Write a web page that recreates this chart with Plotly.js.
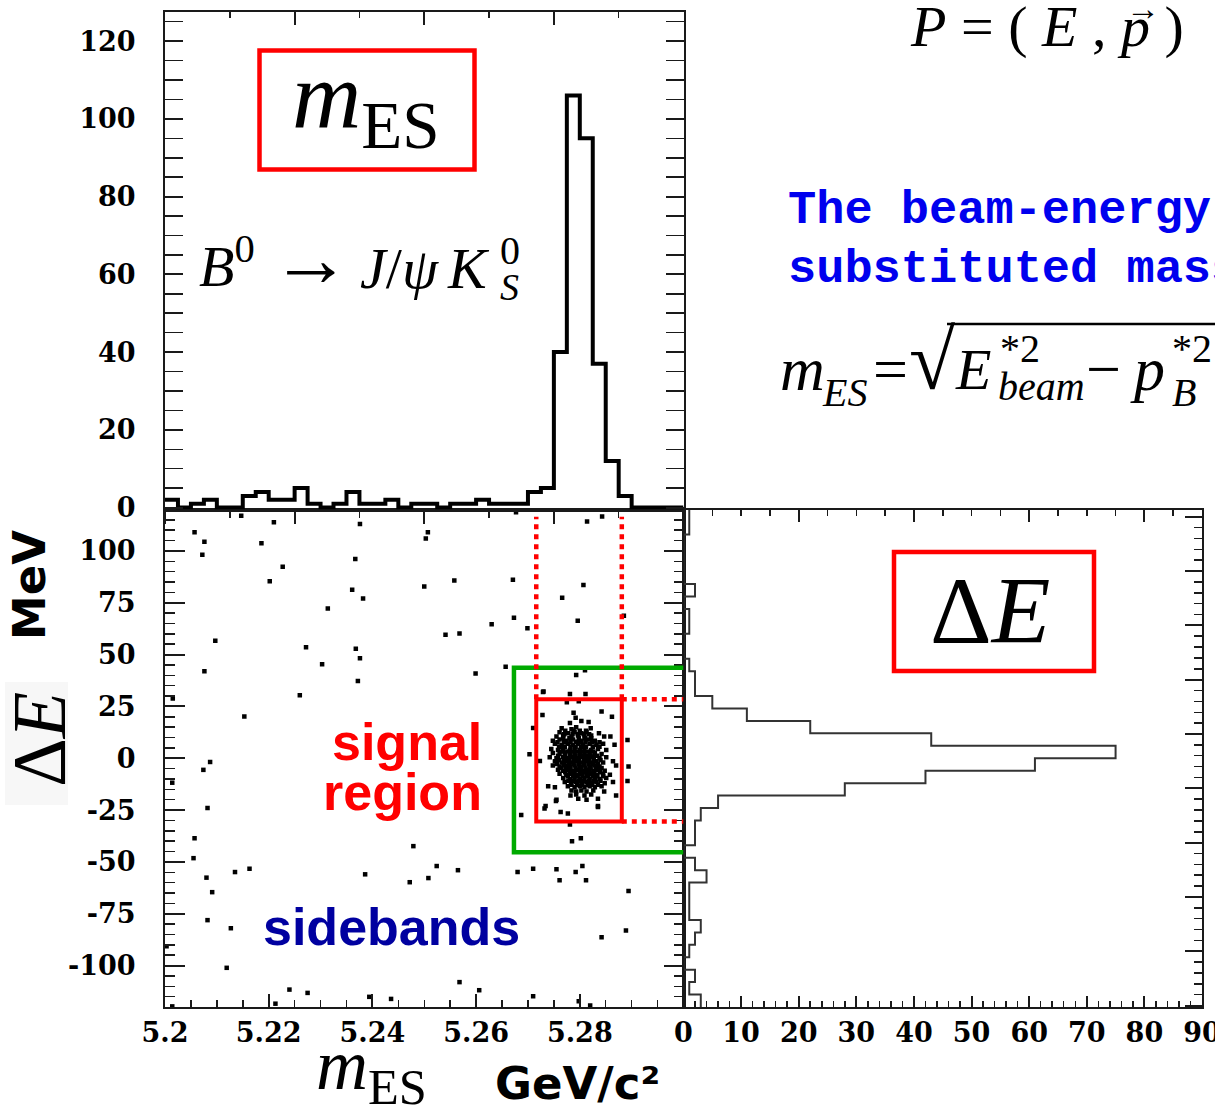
<!DOCTYPE html>
<html><head><meta charset="utf-8">
<script src="https://cdn.plot.ly/plotly-3.0.1.min.js"></script>
<style>html,body{margin:0;padding:0;background:#fff;overflow:hidden}#chart{width:1215px;height:1107px}</style>
</head><body><div id="chart"></div>
<script>
// ---------------- data ----------------
const mesRange = [5.2, 5.3];            // GeV/c^2
const mesBinWidth = 0.0025;
const mesCounts = [2,0,1,2,0,0,3,4,2,2,5,1,0,1,4,1,1,2,0,1,1,0,1,1,2,1,1,1,4,5,40,106,95,37,12,3,0,0,0,0];
const deRange = [-120, 120];            // MeV
const deBinWidth = 6;
const deCounts = [3,1,2,0,1,2,3,1,1,1,4,2,0,2,2,3,6,28,42,61,75,43,22,11,5,2,2,1,0,0,1,1,0,2,0,0,0,0,1,1];

// scattered (background) events: mES, Delta E
const bkgM = [5.2147,5.2210,5.2376,5.2677,5.2814,5.2843,5.2057,5.2076,5.2507,5.2503,5.2186,5.2072,5.2367,5.2227,5.2202,5.2361,5.2382,5.2500,5.2558,5.2671,5.2807,5.2766,5.2314,5.2630,5.2673,5.2699,5.2796,5.2885,5.2541,5.2568,5.2097,5.2272,5.2368,5.2376,5.2303,5.2076,5.2372,5.2599,5.2657,5.2793,5.2810,5.2260,5.2015,5.2153,5.2730,5.2728,5.2710,5.2892,5.2703,
  5.2087,5.2074,5.2014,5.2082,5.2057,5.2055,5.2135,5.2163,5.2080,5.2091,5.2082,5.2127,5.2003,5.2119,5.2479,5.2386,5.2472,5.2508,5.2524,5.2565,5.2680,5.2710,5.2755,5.2761,5.2792,5.2805,5.2812,5.2894,5.2687,5.2781,5.2785,5.2802,5.2842,5.2889,5.2240,5.2275,5.2213,5.2014,5.2394,5.2436,5.2606,5.2710,5.2798,5.2820,5.2568,5.2894,5.2892,5.2723,5.2732,5.2754,5.2763,5.2777,5.2835];
const bkgDE = [117,113.9,113,118.7,114.2,116.6,109,104.5,109,106,103.7,98.2,96.1,92.4,85.4,81.3,77.1,82.8,85.8,86.1,83.6,77.4,72.3,64.7,67.8,62.7,66.3,68.7,59.6,60.2,56.7,53.6,52.8,48.3,45.4,42,37.3,40.9,44.1,40.2,42.4,30.4,28.8,20.1,32.2,20.9,14.6,8.8,1.9,
  -1.8,-5.6,-11.8,-24,-38.6,-48.2,-54.9,-53.3,-57.6,-64.6,-78.1,-82,-90.7,-101.1,-42.4,-56,-59.8,-57.8,-52,-54,-54.9,-53.3,-53.6,-58.8,-54.9,-52,-58.8,-64.1,-27.4,-31.9,-40,-38.6,-86.3,-83.1,-111.6,-113.2,-118.4,-119.7,-115.1,-116.1,-111.9,-114.8,-117.2,-119.3,-108,-4,-11,-1.3,-24.3,-20.6,-25.9,-26.6,-23.5];

// dense signal cluster events: mES, Delta E
const sigM = [
  5.2729,5.2781,5.2811,
  5.2775,5.2798,
  5.2788,5.2842,
  5.2792,5.2862,
  5.2781,5.2803,5.2817,
  5.2765,5.2784,5.2793,5.2821,
  5.2761,5.2777,5.2790,5.2803,5.2813,5.2837,
  5.2755,5.2768,5.2784,5.2797,5.2809,5.2822,5.2847,5.2859,
  5.2748,5.2761,5.2774,5.2787,5.2793,5.2803,5.2816,5.2829,
  5.2752,5.2765,5.2777,5.2787,5.2797,5.2806,5.2819,5.2832,5.2845,5.2867,
  5.2745,5.2758,5.2768,5.2781,5.2790,5.2800,5.2809,5.2822,5.2835,5.2851,
  5.2748,5.2761,5.2771,5.2781,5.2790,5.2800,5.2809,5.2819,5.2829,5.2842,
  5.2742,5.2755,5.2768,5.2777,5.2787,5.2797,5.2806,5.2816,5.2826,5.2838,5.2851,
  5.2752,5.2765,5.2774,5.2784,5.2793,5.2803,5.2813,5.2822,5.2832,5.2845,5.2864,
  5.2748,5.2761,5.2771,5.2781,5.2790,5.2800,5.2809,5.2819,5.2829,5.2838,5.2870,
  5.2758,5.2768,5.2777,5.2787,5.2797,5.2806,5.2816,5.2826,5.2835,5.2848,
  5.2761,5.2774,5.2784,5.2793,5.2803,5.2813,5.2822,5.2832,5.2845,5.2858,
  5.2768,5.2781,5.2790,5.2800,5.2809,5.2819,5.2829,5.2838,5.2851,
  5.2771,5.2784,5.2793,5.2803,5.2813,5.2822,5.2832,5.2848,5.2864,
  5.2739,5.2752,5.2777,5.2790,5.2800,5.2809,5.2819,5.2829,5.2842,
  5.2784,5.2793,5.2803,5.2813,5.2826,5.2847,
  5.2782,5.2793,5.2809,5.2822,5.2870,
  5.2755,5.2797,5.2813,5.2835,
  5.2734,5.2835,
  5.2768,5.2780,5.2798,5.2810,5.2822,
  5.2760,5.2771,5.2782,5.2792,5.2802,5.2812,5.2825,5.2838,
  5.2764,5.2776,5.2786,5.2795,5.2805,5.2814,5.2826,
  5.2758,5.2772,5.2782,5.2792,5.2802,5.2812,5.2821,5.2833,
  5.2760,5.2770,5.2780,5.2789,5.2798,5.2808,5.2818,5.2827,5.2840,
  5.2756,5.2769,5.2779,5.2788,5.2798,5.2808,5.2817,5.2826,5.2835,
  5.2764,5.2773,5.2782,5.2792,5.2802,5.2811,5.2821,5.2831,5.2842,
  5.2772,5.2781,5.2790,5.2800,5.2810,5.2818,5.2828,5.2839,
  5.2777,5.2787,5.2796,5.2805,5.2816,5.2825,5.2834,5.2845,
  5.2778,5.2788,5.2798,5.2808,5.2818,5.2827,5.2840,
  5.2783,5.2795,5.2805,5.2815,5.2824,5.2835,
  5.2770,5.2786,5.2796,5.2808,5.2818,
  5.2772,5.2788,5.2800,5.2812,
  5.2757,5.2770,5.2782,5.2800,5.2811,5.2824,5.2838];
const sigDE = [
  32,31,31,
  27,27.5,
  22,22.5,
  19.5,20,
  17,18,17.5,
  14.5,14,15,14.5,
  12.5,12,12.5,12,12.5,12,
  10.5,11,10.5,11,10.5,11,10.5,10.5,
  8.5,9,8.5,9,8,8.5,9,8.5,
  7,6.5,7,6.5,7,6.5,7,6.5,7,6.5,
  4.5,4,4.5,4,4.5,4,4.5,4,4.5,4,
  2.5,2,2.5,2,2.5,2,2.5,2,2.5,2,
  0.5,0,0.5,0,0.5,0,0.5,0,0.5,0,0.5,
  -1.5,-2,-1.5,-2,-1.5,-2,-1.5,-2,-1.5,-2,-1.5,
  -3.5,-4,-3.5,-4,-3.5,-4,-3.5,-4,-3.5,-4,-3.5,
  -5.5,-6,-5.5,-6,-5.5,-6,-5.5,-6,-5.5,-6,
  -7.5,-8,-7.5,-8,-7.5,-8,-7.5,-8,-7.5,-8,
  -9.5,-10,-9.5,-10,-9.5,-10,-9.5,-10,-9.5,
  -11.5,-12,-11.5,-12,-11.5,-12,-11.5,-12,-11.5,
  -13.5,-14,-13.5,-14,-13.5,-14,-13.5,-14,-13.5,
  -15.5,-16,-15.5,-16,-15.5,-16,
  -18,-17.5,-18,-17.5,-18,
  -20,-19.5,-20,-19.5,
  -23,-23,
  9.7,9.7,9.7,9.7,9.7,
  5.6,5.6,5.6,5.6,5.6,5.6,5.6,5.6,
  3.3,3.3,3.3,3.3,3.3,3.3,3.3,
  1.2,1.2,1.2,1.2,1.2,1.2,1.2,1.2,
  -0.8,-0.8,-0.8,-0.8,-0.8,-0.8,-0.8,-0.8,-0.8,
  -2.8,-2.8,-2.8,-2.8,-2.8,-2.8,-2.8,-2.8,-2.8,
  -4.7,-4.7,-4.7,-4.7,-4.7,-4.7,-4.7,-4.7,-4.7,
  -6.8,-6.8,-6.8,-6.8,-6.8,-6.8,-6.8,-6.8,
  -8.7,-8.7,-8.7,-8.7,-8.7,-8.7,-8.7,-8.7,
  -10.8,-10.8,-10.8,-10.8,-10.8,-10.8,-10.8,
  -12.8,-12.8,-12.8,-12.8,-12.8,-12.8,
  11.6,11.6,11.6,11.6,11.6,
  13.3,13.3,13.3,13.3,
  7.7,7.7,7.7,7.7,7.7,7.7,7.7];

// tick labels
const mesTickVals = [5.2,5.22,5.24,5.26,5.28];
const mesTickText = ['5.2','5.22','5.24','5.26','5.28'];
const deTickVals = [100,75,50,25,0,-25,-50,-75,-100];
const deTickText = ['100','75','50','25','0','-25','-50','-75','-100'];
const cntTickVals = [0,20,40,60,80,100,120];
const cntTickText = ['0','20','40','60','80','100','120'];
const projTickVals = [0,10,20,30,40,50,60,70,80,90];
const projTickText = ['0','10','20','30','40','50','60','70','80','90'];

// ---------------- step outlines from the bins ----------------
const mesEdges = mesCounts.map((_, i) => +(mesRange[0] + i * mesBinWidth).toFixed(4)).concat([mesRange[1]]);
const mesStep = mesCounts.concat([mesCounts[mesCounts.length - 1]]);
const deEdges = deCounts.map((_, i) => deRange[0] + i * deBinWidth).concat([deRange[1]]);
const deStep = deCounts.concat([deCounts[deCounts.length - 1]]);

// ---------------- layout helpers ----------------
const W = 1215, H = 1107, ML = 165, MR = 13, MT = 12, MB = 100;
const PW = W - ML - MR, PH = H - MT - MB;
const PX = x => (x - ML) / PW, PY = y => (H - MB - y) / PH;
const SERIF = 'Liberation Serif';
function note(text, x, y, size, extra) {
  const a = {xref:'paper', yref:'paper', x:PX(x), y:PY(y), text:text, showarrow:false,
    xanchor:'center', yanchor:'middle', font:{family:SERIF, size:size, color:'#000'}};
  if (extra) for (const k in extra) { if (k === 'font') Object.assign(a.font, extra.font); else a[k] = extra[k]; }
  return a;
}
const LC = '#1a1a1a';
const tickFont = {family:'DejaVu Serif', size:27, color:'#000', weight:'bold'};
const base = {showgrid:false, zeroline:false, showline:true, linecolor:LC, linewidth:2, ticks:'inside', tickcolor:LC, tickwidth:2};

const traces = [
  {type:'scatter', mode:'lines', x:mesEdges, y:mesStep, xaxis:'x3', yaxis:'y2',
   line:{shape:'hv', color:'#000', width:4}, hoverinfo:'skip'},
  {type:'scatter', mode:'lines', x:deStep, y:deEdges, xaxis:'x2', yaxis:'y3',
   line:{shape:'vh', color:'#333', width:2}, hoverinfo:'skip'},
  {type:'scatter', mode:'markers', x:bkgM, y:bkgDE, xaxis:'x', yaxis:'y',
   marker:{symbol:'square', size:4.5, color:'#000', line:{width:0}}},
  {type:'scatter', mode:'markers', x:sigM, y:sigDE, xaxis:'x', yaxis:'y',
   marker:{symbol:'square', size:4.5, color:'#000', line:{width:0}}},
  {type:'scatter', mode:'markers', x:[], y:[], xaxis:'x4', yaxis:'y2'},
  {type:'scatter', mode:'markers', x:[], y:[], xaxis:'x5', yaxis:'y3'}
];

const dotted = {color:'#ff0000', width:4.5, dash:'5px,5px'};
const layout = {
  width:W, height:H, margin:{l:ML, r:MR, t:MT, b:MB, pad:0},
  paper_bgcolor:'#fff', plot_bgcolor:'#fff', showlegend:false,
  font:{family:'DejaVu Serif', color:'#000'},
  xaxis: Object.assign({}, base, {domain:[0,0.5], range:mesRange, anchor:'y', mirror:true,
    tickmode:'array', tickvals:mesTickVals, ticktext:mesTickText, ticklen:13,
    minor:{dtick:0.005, tick0:5.2, ticks:'inside', ticklen:7, tickwidth:1.5, tickcolor:LC},
    tickfont:tickFont, ticklabelstandoff:1, ticklabeloverflow:'allow'}),
  yaxis: Object.assign({}, base, {domain:[0,0.5], range:deRange, anchor:'x', mirror:'allticks',
    tickmode:'array', tickvals:deTickVals, ticktext:deTickText, ticklen:20,
    minor:{dtick:5, tick0:0, ticks:'inside', ticklen:10, tickwidth:1.5, tickcolor:LC},
    tickfont:tickFont, ticklabelstandoff:22}),
  yaxis2: Object.assign({}, base, {domain:[0.5,1], range:[-0.5,127.5], anchor:'x3', mirror:'allticks',
    tickmode:'array', tickvals:cntTickVals, ticktext:cntTickText, ticklen:18,
    minor:{dtick:5, tick0:0, ticks:'inside', ticklen:8, tickwidth:1.5, tickcolor:LC},
    tickfont:tickFont, ticklabelstandoff:22}),
  xaxis3: Object.assign({}, base, {domain:[0,0.5], range:mesRange, anchor:'y2', mirror:true,
    ticks:'outside', tick0:5.2, dtick:0.025, ticklen:12, showticklabels:false,
    minor:{dtick:0.0125, tick0:5.2, ticks:'outside', ticklen:6, tickwidth:1.5, tickcolor:LC}}),
  xaxis4: {overlaying:'x3', side:'top', anchor:'y2', range:mesRange, showgrid:false, zeroline:false,
    showline:false, ticks:'inside', tickcolor:LC, tickwidth:2, tick0:5.2, dtick:0.025, ticklen:13,
    showticklabels:false, minor:{dtick:0.0125, tick0:5.2, ticks:'inside', ticklen:6, tickwidth:1.5, tickcolor:LC}},
  xaxis2: Object.assign({}, base, {domain:[0.5,1], range:[0,90], anchor:'y3', mirror:true,
    tickmode:'array', tickvals:projTickVals, ticktext:projTickText, ticklen:11,
    minor:{dtick:2, tick0:0, ticks:'inside', ticklen:6, tickwidth:1.5, tickcolor:LC},
    tickfont:tickFont, ticklabelstandoff:1, ticklabeloverflow:'allow'}),
  xaxis5: {overlaying:'x2', side:'top', anchor:'y3', range:[0,90], showgrid:false, zeroline:false,
    showline:false, ticks:'inside', tickcolor:LC, tickwidth:2, tick0:0, dtick:20, ticklen:12,
    showticklabels:false, minor:{dtick:5, tick0:0, ticks:'inside', ticklen:6, tickwidth:1.5, tickcolor:LC}},
  yaxis3: Object.assign({}, base, {domain:[0,0.5], range:deRange, anchor:'x2', side:'right', mirror:true,
    tick0:11.7, dtick:26.2, ticklen:17, showticklabels:false,
    minor:{dtick:5.24, tick0:11.7, ticks:'inside', ticklen:8, tickwidth:1.5, tickcolor:LC}}),
  shapes: [
    {type:'rect', xref:'paper', yref:'paper', x0:PX(5), x1:PX(68), y0:PY(805), y1:PY(682), fillcolor:'#f7f7f7', line:{width:0}, layer:'below'},
    {type:'rect', xref:'paper', yref:'paper', x0:PX(259.5), x1:PX(474.5), y0:PY(169.5), y1:PY(50.5), line:{color:'#ff0000', width:4.5}},
    {type:'rect', xref:'paper', yref:'paper', x0:PX(894), x1:PX(1094), y0:PY(671), y1:PY(552), line:{color:'#ff0000', width:4.5}},
    {type:'path', xref:'x', yref:'y', path:'M 5.3,43.7 L 5.2673,43.7 L 5.2673,-45.4 L 5.3,-45.4', line:{color:'#00aa00', width:4.5}},
    {type:'rect', xref:'x', yref:'y', x0:5.2716, x1:5.2881, y0:-30.5, y1:28.5, line:{color:'#ff0000', width:4}},
    {type:'line', xref:'x', yref:'y', x0:5.2716, x1:5.2716, y0:28.5, y1:116.5, line:dotted},
    {type:'line', xref:'x', yref:'y', x0:5.2881, x1:5.2881, y0:28.5, y1:116.5, line:dotted},
    {type:'line', xref:'x', yref:'y', x0:5.2881, x1:5.3, y0:28.5, y1:28.5, line:dotted},
    {type:'line', xref:'x', yref:'y', x0:5.2881, x1:5.3, y0:-30.5, y1:-30.5, line:dotted},
    {type:'line', xref:'paper', yref:'paper', x0:PX(947), x1:PX(1215), y0:PY(324), y1:PY(324), line:{color:'#000', width:2.5}}
  ],
  annotations: [
    note('<i>m</i><sub>ES</sub>', 366, 103, 96),
    note('<i>B</i><sup>0</sup>', 197, 262, 58, {xanchor:'left'}),
    note('→', 311, 259, 80),
    note('<i>J</i>/<i>ψ</i>', 358, 268, 58, {xanchor:'left'}),
    note('<i>K</i>', 445, 268, 58, {xanchor:'left'}),
    note('0', 510, 250, 40),
    note('<i>S</i>', 509, 287, 38),
    note('Δ<i>E</i>', 990, 610, 96),
    note('Δ<i>E</i>', 39, 740, 76, {textangle:-90}),
    note('MeV', 29, 585, 45, {textangle:-90, font:{family:'DejaVu Sans', weight:'bold'}}),
    note('<i>m</i><sub>ES</sub>', 371, 1070, 72),
    note('GeV/c²', 577, 1083, 45, {font:{family:'DejaVu Sans', weight:'bold'}}),
    note('<i>P</i> = ( <i>E</i> , <i>p</i> )', 1047, 27, 58),
    note('→', 1143, 9, 34),
    note('The beam-energy', 786, 210, 47, {xanchor:'left', font:{family:'Liberation Mono', weight:'bold', color:'#0000ee'}}),
    note('substituted mass', 786, 270, 47, {xanchor:'left', font:{family:'Liberation Mono', weight:'bold', color:'#0000ee'}}),
    note('<i>m</i>', 778, 369, 62, {xanchor:'left'}),
    note('<i>ES</i>', 820, 392, 40, {xanchor:'left'}),
    note('=', 890, 369, 62),
    note('√', 932, 360, 84),
    note('<i>E</i>', 953, 370, 58, {xanchor:'left'}),
    note('*2', 998, 349, 40, {xanchor:'left'}),
    note('<i>beam</i>', 996, 387, 40, {xanchor:'left'}),
    note('−', 1103, 369, 62),
    note('<i>p</i>', 1128, 369, 62, {xanchor:'left'}),
    note('*2', 1170, 349, 40, {xanchor:'left'}),
    note('<i>B</i>', 1170, 392, 40, {xanchor:'left'}),
    note('signal', 484, 742, 52, {xanchor:'right', font:{family:'Liberation Sans', weight:'bold', color:'#ff0000'}}),
    note('region', 484, 792, 52, {xanchor:'right', font:{family:'Liberation Sans', weight:'bold', color:'#ff0000'}}),
    note('sidebands', 391, 927, 52, {font:{family:'Liberation Sans', weight:'bold', color:'#0000a0'}})
  ]
};

Plotly.newPlot('chart', traces, layout, {staticPlot:true, displayModeBar:false});
</script>
</body></html>
